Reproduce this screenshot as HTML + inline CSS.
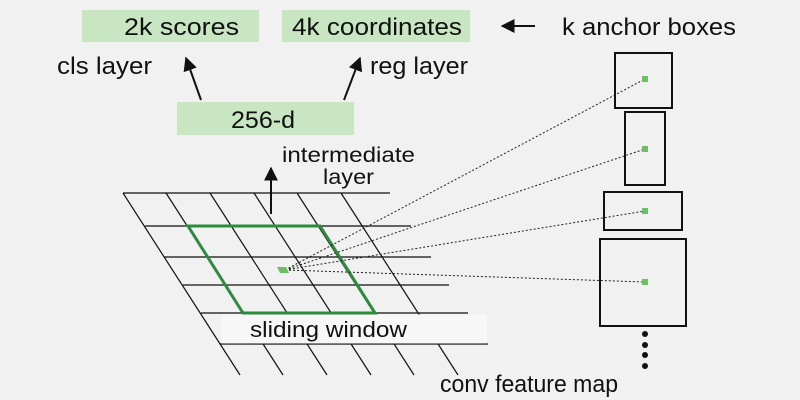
<!DOCTYPE html>
<html><head><meta charset="utf-8"><style>html,body{margin:0;padding:0;background:#f1f1f1}svg{display:block}</style></head><body>
<svg width="800" height="400" viewBox="0 0 800 400" xmlns="http://www.w3.org/2000/svg" font-family="Liberation Sans, sans-serif" fill="#111">
<defs><marker id="ah" viewBox="0 0 10 10" refX="9" refY="5" markerWidth="7" markerHeight="7" orient="auto"><path d="M0,0 L10,5 L0,10 z" fill="#111"/></marker></defs>
<rect width="800" height="400" fill="#f1f1f1"/>
<g fill="#c9e6c2">
<rect x="82" y="10" width="177" height="32"/>
<rect x="282" y="10" width="188" height="32"/>
<rect x="177" y="102" width="177" height="33"/>
</g>
<g font-size="24">
<text x="124" y="35" textLength="115" lengthAdjust="spacingAndGlyphs">2k scores</text>
<text x="292" y="35" textLength="170" lengthAdjust="spacingAndGlyphs">4k coordinates</text>
<text x="231" y="128" textLength="64" lengthAdjust="spacingAndGlyphs">256-d</text>
<text x="57" y="74" textLength="95" lengthAdjust="spacingAndGlyphs">cls layer</text>
<text x="370" y="74" textLength="98" lengthAdjust="spacingAndGlyphs">reg layer</text>
<text x="562" y="35" textLength="174" lengthAdjust="spacingAndGlyphs">k anchor boxes</text>
<text x="440" y="392" textLength="178" lengthAdjust="spacingAndGlyphs">conv feature map</text>
</g>
<g font-size="21">
<text x="282" y="162" textLength="133" lengthAdjust="spacingAndGlyphs">intermediate</text>
<text x="323" y="184" textLength="51" lengthAdjust="spacingAndGlyphs">layer</text>
</g>
<g stroke="#111" stroke-width="2" fill="none">
<line x1="201" y1="100" x2="186" y2="58" marker-end="url(#ah)"/>
<line x1="344" y1="100" x2="360" y2="58" marker-end="url(#ah)"/>
<line x1="535" y1="26" x2="502" y2="26" marker-end="url(#ah)"/>
<line x1="271" y1="214" x2="271" y2="168" marker-end="url(#ah)"/>
</g>
<g stroke="#111" stroke-width="1.2">
<line x1="123" y1="193" x2="390" y2="193"/>
<line x1="145" y1="226" x2="411" y2="226"/>
<line x1="164" y1="257" x2="431" y2="257"/>
<line x1="183" y1="285" x2="449" y2="285"/>
<line x1="201" y1="313" x2="468" y2="313"/>
<line x1="220" y1="344" x2="488" y2="344"/>
<line x1="123" y1="193" x2="240" y2="375"/>
<line x1="166" y1="193" x2="283" y2="375"/>
<line x1="210" y1="193" x2="327" y2="375"/>
<line x1="254" y1="193" x2="371" y2="375"/>
<line x1="297" y1="193" x2="414" y2="375"/>
<line x1="341" y1="193" x2="458" y2="375"/>
</g>
<rect x="222" y="314.5" width="265" height="29" fill="#f7f7f7"/>
<text x="250" y="337" font-size="22" textLength="157" lengthAdjust="spacingAndGlyphs">sliding window</text>
<polygon points="188,226 320,226 375,313 243,313" fill="none" stroke="#2e8b3e" stroke-width="3"/>
<g stroke="#111" stroke-width="2" fill="none">
<rect x="615" y="53" width="57" height="55"/>
<rect x="625" y="112" width="40" height="73"/>
<rect x="604" y="192" width="78" height="38"/>
<rect x="600" y="239" width="86" height="87"/>
</g>
<g stroke="#222" stroke-width="1" stroke-dasharray="2,2">
<line x1="285" y1="270" x2="645" y2="79"/>
<line x1="285" y1="270" x2="645" y2="149"/>
<line x1="285" y1="270" x2="645" y2="211"/>
<line x1="285" y1="270" x2="645" y2="282"/>
</g>
<g fill="#6cbf64">
<polygon points="277,267 286,267 289,273 280,273"/>
<rect x="642" y="76" width="6" height="6"/>
<rect x="642" y="146" width="6" height="6"/>
<rect x="642" y="208" width="6" height="6"/>
<rect x="642" y="279" width="6" height="6"/>
</g>
<g fill="#111">
<circle cx="645" cy="334" r="3"/><circle cx="645" cy="345" r="3"/><circle cx="645" cy="355" r="3"/><circle cx="645" cy="366" r="3"/>
</g>
</svg>
</body></html>
